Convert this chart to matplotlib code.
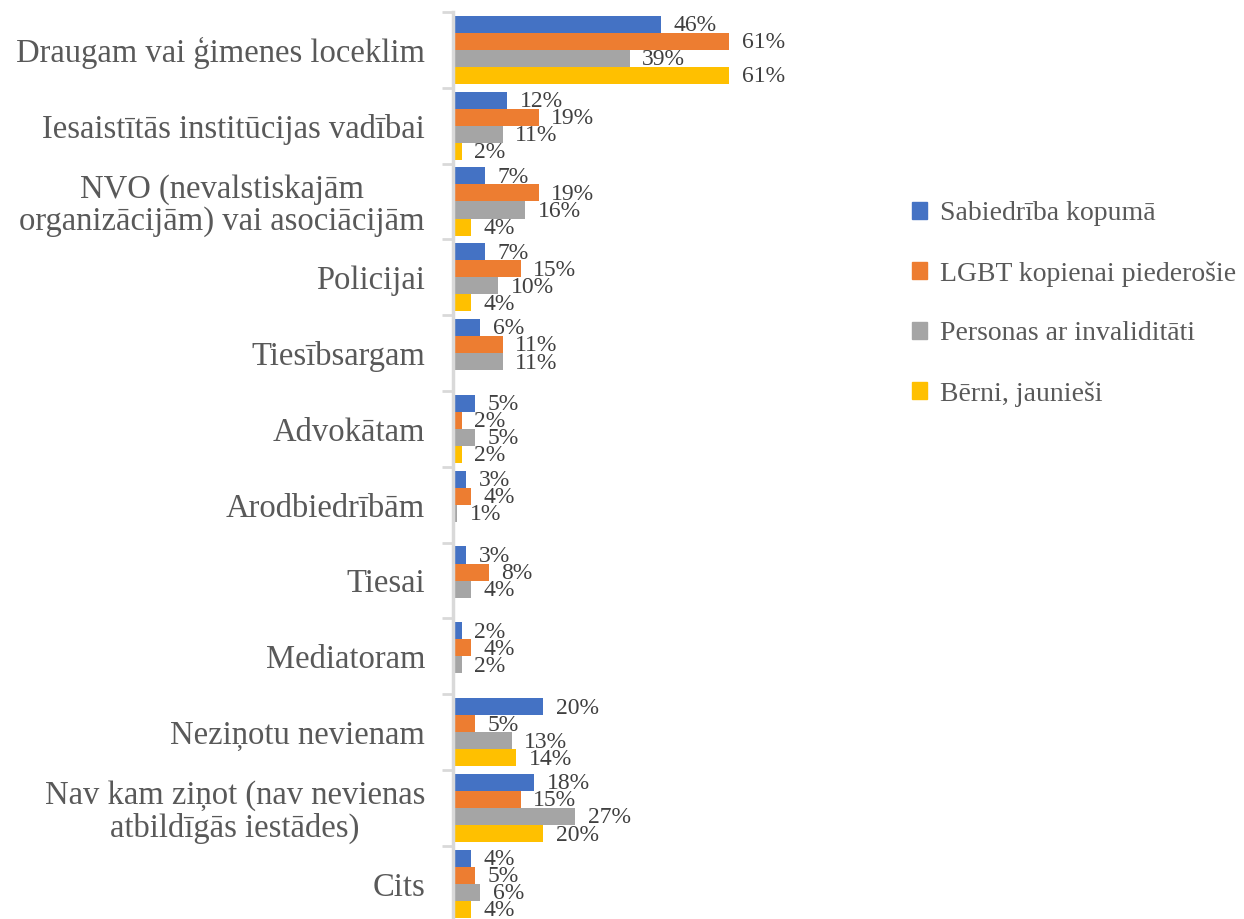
import numpy as np
import matplotlib.pyplot as plt
from matplotlib.patches import Patch

plt.rcParams['font.family'] = ['Liberation Serif', 'DejaVu Serif']

categories = [
    "Draugam vai ģimenes loceklim",
    "Iesaistītās institūcijas vadībai",
    "NVO (nevalstiskajām\norganizācijām) vai asociācijām",
    "Policijai",
    "Tiesībsargam",
    "Advokātam",
    "Arodbiedrībām",
    "Tiesai",
    "Mediatoram",
    "Neziņotu nevienam",
    "Nav kam ziņot (nav nevienas\natbildīgās iestādes)",
    "Cits",
]
series_names = ["Sabiedrība kopumā", "LGBT kopienai piederošie",
                "Personas ar invaliditāti", "Bērni, jaunieši"]
sabiedriba = [46, 12, 7, 7, 6, 5, 3, 3, 2, 20, 18, 4]
lgbt = [61, 19, 19, 15, 11, 2, 4, 8, 4, 5, 15, 5]
invaliditate = [39, 11, 16, 10, 11, 5, 1, 4, 2, 13, 27, 6]
berni = [61, 2, 4, 4, None, 2, None, None, None, 14, 20, 4]
colors = ["#4472C4", "#ED7D31", "#A5A5A5", "#FFC000"]
text_color = '#595959'

fig = plt.figure(figsize=(12.44, 9.19), dpi=100)
ax = fig.add_axes([0.364, -0.003, 0.255, 0.990])

n = len(categories)
y = np.arange(n)
bar_h = 0.225
for k, (vals, c) in enumerate(zip([sabiedriba, lgbt, invaliditate, berni], colors)):
    offs = (k - 1.5) * bar_h
    for i, v in enumerate(vals):
        if v is None:
            continue
        ax.barh(y[i] + offs, v, height=bar_h, color=c)
        ax.annotate(f"{v}%", (v, y[i] + offs), xytext=(9, -1), textcoords='offset points',
                    va='center', ha='left', fontsize=17, color='#404040')

ax.set_ylim(n - 0.5, -0.5)
ax.set_xlim(0, 70)
ax.set_yticks(y)
ax.set_yticklabels(categories, fontsize=23.5, color=text_color, linespacing=1.05,
                   multialignment='center')
ax.set_yticks(np.arange(n + 1) - 0.5, minor=True)
ax.tick_params(axis='y', which='major', length=0, pad=20)
ax.tick_params(axis='y', which='minor', length=8, width=2, color='#d9d9d9')
ax.set_xticks([])
for s in ['top', 'right', 'bottom']:
    ax.spines[s].set_visible(False)
ax.spines['left'].set_color('#d9d9d9')
ax.spines['left'].set_linewidth(2.5)

handles = [Patch(color=c) for c in colors]
fig.legend(handles, series_names, loc='upper left', bbox_to_anchor=(0.713, 0.808),
           frameon=False, fontsize=20, handlelength=0.55, handleheight=0.55,
           handletextpad=0.45, labelspacing=1.25, labelcolor=text_color)

fig.savefig("out.png", dpi=100)
